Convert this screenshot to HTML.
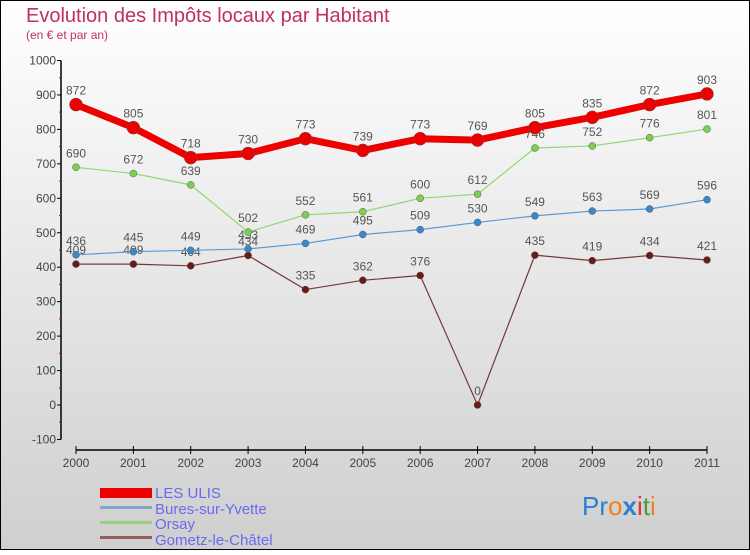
<!DOCTYPE html>
<html><head><meta charset="utf-8"><style>
body{margin:0;width:750px;height:550px;overflow:hidden}
svg text{font-family:"Liberation Sans",sans-serif}
</style></head><body>
<svg width="750" height="550" xmlns="http://www.w3.org/2000/svg">
<defs><linearGradient id="bg" x1="0" y1="0" x2="0" y2="1"><stop offset="0" stop-color="#ffffff"/><stop offset="1" stop-color="#cfcfcf"/></linearGradient></defs>
<rect x="0.5" y="0.5" width="749" height="549" fill="url(#bg)" stroke="#000"/>
<text x="26" y="22" font-size="20" fill="#c0305a">Evolution des Impôts locaux par Habitant</text>
<text x="26" y="39" font-size="12" fill="#c0305a">(en € et par an)</text>
<g id="axes"></g>
<g id="series"></g>
<g>
<rect x="100" y="488" width="52" height="10" fill="#e00"/>
<text x="155" y="498" font-size="15" fill="#6a6af0">LES ULIS</text>
<rect x="100" y="506" width="52" height="3" fill="#80a8c8"/>
<text x="155" y="514" font-size="15" fill="#6a6af0">Bures-sur-Yvette</text>
<rect x="100" y="521" width="52" height="3" fill="#98d080"/>
<text x="155" y="529" font-size="15" fill="#6a6af0">Orsay</text>
<rect x="100" y="536" width="52" height="3" fill="#906060"/>
<text x="155" y="545" font-size="15" fill="#6a6af0">Gometz-le-Châtel</text>
</g>
<text x="582" y="515" font-size="26"><tspan fill="#2a7fd0">Pr</tspan><tspan fill="#f08020">o</tspan><tspan fill="#2a7fd0" font-weight="bold">x</tspan><tspan fill="#e03030">i</tspan><tspan fill="#40a040">t</tspan><tspan fill="#f08020">i</tspan></text>
</svg>
<script>
const years=["2000","2001","2002","2003","2004","2005","2006","2007","2008","2009","2010","2011"];
const yTicks=[-100,0,100,200,300,400,500,600,700,800,900,1000];
const lesUlis=[872,805,718,730,773,739,773,769,805,835,872,903];
const bures=[436,445,449,453,469,495,509,530,549,563,569,596];
const orsay=[690,672,639,502,552,561,600,612,746,752,776,801];
const gometz=[409,409,404,434,335,362,376,0,435,419,434,421];
const NS="http://www.w3.org/2000/svg";
function X(i){return 76+i*(707-76)/11;}
function Y(v){return 405-v*0.3445;}
function mk(t,a,p){const e=document.createElementNS(NS,t);for(const k in a)e.setAttribute(k,a[k]);p.appendChild(e);return e;}
const ax=document.getElementById('axes');
let l=mk('line',{x1:61,y1:Y(1000),x2:61,y2:Y(-100),stroke:'#000','stroke-width':1.5},ax);


yTicks.forEach(v=>{
 mk('line',{x1:57,y1:Y(v),x2:61,y2:Y(v),stroke:'#000'},ax);
 if(v<1000) mk('line',{x1:59,y1:Y(v+50),x2:61,y2:Y(v+50),stroke:'#e00'},ax);
 const t=mk('text',{x:56,y:Y(v)+4,'font-size':12,fill:'#444','text-anchor':'end'},ax);t.textContent=v;
 
 
});
l=mk('line',{x1:X(0),y1:450,x2:X(11),y2:450,stroke:'#000','stroke-width':1.5},ax);


years.forEach((y,i)=>{
 mk('line',{x1:X(i),y1:446,x2:X(i),y2:454,stroke:'#000'},ax);
 const t=mk('text',{x:X(i),y:467,'font-size':12,fill:'#444','text-anchor':'middle'},ax);t.textContent=y;
 
 
});
const sg=document.getElementById('series');
function draw(data,color,dot,w,r,name){
 const g=mk('g',{},sg);
 
 
 mk('polyline',{points:data.map((v,i)=>X(i)+','+Y(v)).join(' '),fill:'none',stroke:color,'stroke-width':w,'stroke-linejoin':'round'},g);
 data.forEach((v,i)=>{
  const c=mk('circle',{cx:X(i),cy:Y(v),r:r,fill:dot,stroke:'#555','stroke-width':0.5},g);
  
  
  const t=mk('text',{x:X(i),y:Y(v)-10,'font-size':12,fill:'#555','text-anchor':'middle'},g);t.textContent=v;
  
  
 });
}
draw(gometz,'#7a3838','#6a1a1a',1.2,3.5,'gometz');
draw(bures,'#5a9ad8','#3a88cc',1.2,3.5,'bures');
draw(orsay,'#8fd870','#7ad050',1.2,3.5,'orsay');
draw(lesUlis,'#ee0000','#ee0000',7,6.5,'les-ulis');
</script>
</body></html>
